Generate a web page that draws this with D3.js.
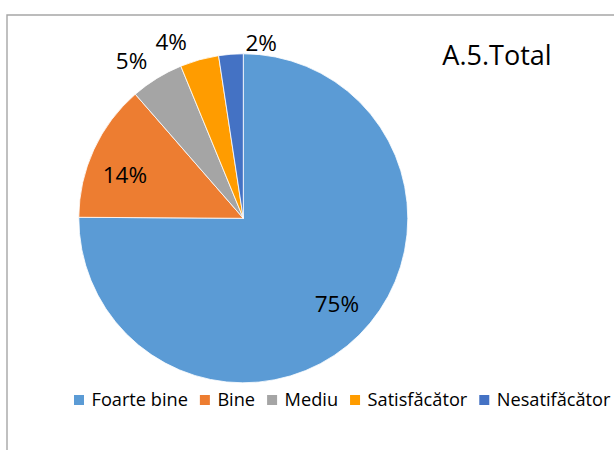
<!DOCTYPE html>
<html>
<head>
<meta charset="utf-8">
<script src="https://cdn.jsdelivr.net/npm/d3@7"></script>
<style>
  html, body { margin: 0; padding: 0; background: #fff; }
  svg { display: block; }
  text { font-family: "Open Sans", "Noto Sans", sans-serif; fill: #000; }
</style>
</head>
<body>
<svg id="chart" width="614" height="450"></svg>
<script>
// ---- data ----
const categories = ["Foarte bine", "Bine", "Mediu", "Satisfăcător", "Nesatifăcător"];
const values = [75.1, 13.5, 5.2, 3.8, 2.4]; // percent shares
const colors = ["#5B9BD5", "#ED7D31", "#A5A5A5", "#FF9C00", "#4472C4"];
const title = "A.5.Total";

// ---- layout ----
const W = 614, H = 450;
const cx = 243.3, cy = 218.3, R = 164.5;
const insideR = 127, outsideR = 188;
const labelInside = [true, true, false, false, false];
const labelNudge = [[4, -4], [-3, 10], [-13, 3], [-22, 5], [32, 12]];

const svg = d3.select("#chart");
svg.append("rect").attr("width", W).attr("height", H).attr("fill", "#fff");

// frame
svg.append("path")
  .attr("d", `M7,${H} L7,15 L${W},15`)
  .attr("fill", "none")
  .attr("stroke", "#A6A6A6")
  .attr("stroke-width", 1.4);

const data = categories.map((c, i) => ({ cat: c, value: values[i], color: colors[i], i }));
const pie = d3.pie().sort(null).value(d => d.value);
const arcs = pie(data);
const arc = d3.arc().innerRadius(0).outerRadius(R);
const arcIn = d3.arc().innerRadius(insideR).outerRadius(insideR);
const arcOut = d3.arc().innerRadius(outsideR).outerRadius(outsideR);

const g = svg.append("g").attr("transform", `translate(${cx},${cy})`);
g.selectAll("path.slice")
  .data(arcs)
  .join("path")
  .attr("class", "slice")
  .attr("d", arc)
  .attr("fill", d => d.data.color)
  .attr("stroke", "#fff")
  .attr("stroke-width", 0.8);

g.selectAll("text.lbl")
  .data(arcs)
  .join("text")
  .attr("class", "lbl")
  .attr("text-anchor", "middle")
  .attr("font-size", 22.5)
  .attr("dy", "0.356em")
  .attr("transform", d => {
    const p = (labelInside[d.data.i] ? arcIn : arcOut).centroid(d);
    const n = labelNudge[d.data.i];
    return `translate(${p[0] + n[0]},${p[1] + n[1]})`;
  })
  .text(d => Math.round(d.data.value) + "%");

// title
svg.append("text")
  .attr("x", 497)
  .attr("y", 64.7)
  .attr("text-anchor", "middle")
  .attr("font-size", 27)
  .text(title);

// legend
const legend = svg.append("g");
let lx = 74;
const sq = 10, sqY = 395, baseY = 406.3;
data.forEach(d => {
  legend.append("rect")
    .attr("x", lx).attr("y", sqY)
    .attr("width", sq).attr("height", sq)
    .attr("fill", d.color);
  const t = legend.append("text")
    .attr("x", lx + 17.5)
    .attr("y", baseY)
    .attr("font-size", 18.2)
    .text(d.cat);
  lx = lx + 17.5 + t.node().getComputedTextLength() + 12;
});
</script>
</body>
</html>
